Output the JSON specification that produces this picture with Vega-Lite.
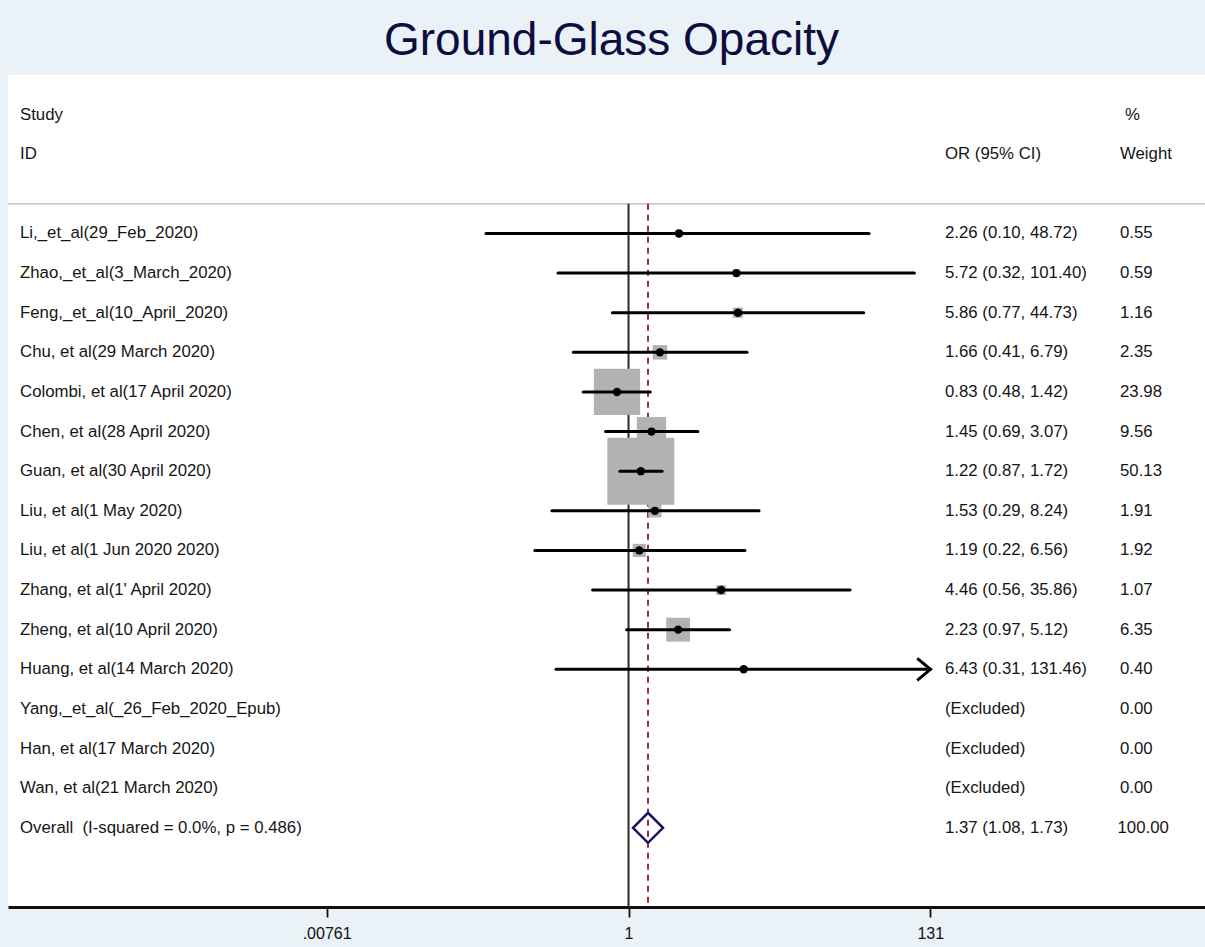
{
  "$schema": "https://vega.github.io/schema/vega-lite/v6.json",
  "autosize": "none",
  "width": 1197,
  "height": 832,
  "padding": {"left": 8, "top": 75, "right": 0, "bottom": 40},
  "background": "#eaf2f8",
  "title": {
    "text": "Ground-Glass Opacity",
    "font": "Liberation Sans",
    "fontSize": 46,
    "fontWeight": "normal",
    "color": "#0d0d40",
    "anchor": "middle",
    "frame": "group",
    "baseline": "alphabetic",
    "offset": -26,
    "dx": 5
  },
  "config": {
    "view": {"fill": "white", "stroke": null},
    "axis": {"grid": false},
    "text": {"font": "Liberation Sans", "fontSize": 16.8, "color": "#151515", "align": "left", "baseline": "middle"}
  },
  "datasets": {
    "studies": [
      {"id": 1, "study": "Li,_et_al(29_Feb_2020)", "or": 2.26, "lo": 0.10, "hi": 48.72, "w": 0.55, "ci": "2.26 (0.10, 48.72)", "wt": "0.55"},
      {"id": 2, "study": "Zhao,_et_al(3_March_2020)", "or": 5.72, "lo": 0.32, "hi": 101.40, "w": 0.59, "ci": "5.72 (0.32, 101.40)", "wt": "0.59"},
      {"id": 3, "study": "Feng,_et_al(10_April_2020)", "or": 5.86, "lo": 0.77, "hi": 44.73, "w": 1.16, "ci": "5.86 (0.77, 44.73)", "wt": "1.16"},
      {"id": 4, "study": "Chu, et al(29 March 2020)", "or": 1.66, "lo": 0.41, "hi": 6.79, "w": 2.35, "ci": "1.66 (0.41, 6.79)", "wt": "2.35"},
      {"id": 5, "study": "Colombi, et al(17 April 2020)", "or": 0.83, "lo": 0.48, "hi": 1.42, "w": 23.98, "ci": "0.83 (0.48, 1.42)", "wt": "23.98"},
      {"id": 6, "study": "Chen, et al(28 April 2020)", "or": 1.45, "lo": 0.69, "hi": 3.07, "w": 9.56, "ci": "1.45 (0.69, 3.07)", "wt": "9.56"},
      {"id": 7, "study": "Guan, et al(30 April 2020)", "or": 1.22, "lo": 0.87, "hi": 1.72, "w": 50.13, "ci": "1.22 (0.87, 1.72)", "wt": "50.13"},
      {"id": 8, "study": "Liu, et al(1 May 2020)", "or": 1.53, "lo": 0.29, "hi": 8.24, "w": 1.91, "ci": "1.53 (0.29, 8.24)", "wt": "1.91"},
      {"id": 9, "study": "Liu, et al(1 Jun 2020 2020)", "or": 1.19, "lo": 0.22, "hi": 6.56, "w": 1.92, "ci": "1.19 (0.22, 6.56)", "wt": "1.92"},
      {"id": 10, "study": "Zhang, et al(1' April 2020)", "or": 4.46, "lo": 0.56, "hi": 35.86, "w": 1.07, "ci": "4.46 (0.56, 35.86)", "wt": "1.07"},
      {"id": 11, "study": "Zheng, et al(10 April 2020)", "or": 2.23, "lo": 0.97, "hi": 5.12, "w": 6.35, "ci": "2.23 (0.97, 5.12)", "wt": "6.35"},
      {"id": 12, "study": "Huang, et al(14 March 2020)", "or": 6.43, "lo": 0.31, "hi": 131.46, "w": 0.40, "ci": "6.43 (0.31, 131.46)", "wt": "0.40"},
      {"id": 13, "study": "Yang,_et_al(_26_Feb_2020_Epub)", "or": null, "lo": null, "hi": null, "w": 0, "ci": "(Excluded)", "wt": "0.00"},
      {"id": 14, "study": "Han, et al(17 March 2020)", "or": null, "lo": null, "hi": null, "w": 0, "ci": "(Excluded)", "wt": "0.00"},
      {"id": 15, "study": "Wan, et al(21 March 2020)", "or": null, "lo": null, "hi": null, "w": 0, "ci": "(Excluded)", "wt": "0.00"}
    ],
    "overall": [
      {"id": 16, "study": "Overall\u00a0 (I-squared = 0.0%, p = 0.486)", "or": 1.37, "lo": 1.08, "hi": 1.73, "w": 100, "ci": "1.37 (1.08, 1.73)", "wt": "100.00"}
    ]
  },
  "layer": [
    {
      "data": {"values": [{}]},
      "mark": {"type": "rule", "color": "#c4c4c4", "strokeWidth": 1.5},
      "encoding": {
        "y": {"datum": 0.25, "type": "quantitative", "scale": {"domain": [-3, 18], "reverse": true, "nice": false, "zero": false}, "axis": null}
      }
    },
    {
      "data": {"values": [{}]},
      "mark": {"type": "rule", "color": "#2a2a2a", "strokeWidth": 2},
      "encoding": {
        "x": {"datum": 1, "type": "quantitative", "scale": {"type": "log", "domain": [0.0000442, 11105], "nice": false},
          "axis": {"values": [0.00761, 1, 131], "labelExpr": "datum.value < 0.01 ? '.00761' : (datum.value > 100 ? '131' : '1')", "title": null,
            "domainColor": "#111", "domainWidth": 3, "tickColor": "#111", "tickWidth": 1.8, "tickSize": 10,
            "labelFont": "Liberation Sans", "labelFontSize": 16, "labelColor": "#111", "labelPadding": 8}},
        "y": {"datum": 0.25, "type": "quantitative", "axis": null},
        "y2": {"datum": 18}
      }
    },
    {
      "data": {"values": [{}]},
      "mark": {"type": "rule", "color": "#8b1a2a", "strokeWidth": 1.8, "strokeDash": [6, 5]},
      "encoding": {
        "x": {"datum": 1.37, "type": "quantitative", "title": null},
        "y": {"datum": 0.25, "type": "quantitative", "axis": null},
        "y2": {"datum": 18}
      }
    },
    {
      "data": {"name": "studies"},
      "mark": {"type": "point", "shape": "square", "filled": true, "color": "#b2b2b2", "opacity": 1},
      "encoding": {
        "x": {"field": "or", "type": "quantitative", "title": null},
        "y": {"field": "id", "type": "quantitative", "axis": null},
        "size": {"field": "w", "type": "quantitative", "scale": {"type": "linear", "domain": [0, 100], "range": [0, 8950]}, "legend": null}
      }
    },
    {
      "data": {"name": "studies"},
      "mark": {"type": "rule", "color": "#000", "strokeWidth": 3, "strokeCap": "round"},
      "encoding": {
        "x": {"field": "lo", "type": "quantitative", "title": null},
        "x2": {"field": "hi"},
        "y": {"field": "id", "type": "quantitative", "axis": null}
      }
    },
    {
      "data": {"name": "studies"},
      "mark": {"type": "point", "shape": "circle", "filled": true, "color": "#000", "size": 70, "opacity": 1},
      "encoding": {
        "x": {"field": "or", "type": "quantitative", "title": null},
        "y": {"field": "id", "type": "quantitative", "axis": null}
      }
    },
    {
      "data": {"name": "studies"},
      "transform": [{"filter": "datum.hi > 131"}],
      "mark": {"type": "point", "shape": "M -1.2 -1 L 0 0 L -1.2 1", "filled": false, "stroke": "#000", "strokeWidth": 3, "size": 484, "opacity": 1},
      "encoding": {
        "x": {"field": "hi", "type": "quantitative", "title": null},
        "y": {"field": "id", "type": "quantitative", "axis": null}
      }
    },
    {
      "data": {"name": "overall"},
      "mark": {"type": "point", "shape": "diamond", "filled": false, "stroke": "#14145a", "strokeWidth": 2.5, "size": 900, "opacity": 1},
      "encoding": {
        "x": {"field": "or", "type": "quantitative", "title": null},
        "y": {"field": "id", "type": "quantitative", "axis": null}
      }
    },
    {
      "data": {"name": "studies"},
      "mark": {"type": "text"},
      "encoding": {
        "x": {"datum": 0.00005367, "type": "quantitative", "title": null},
        "y": {"field": "id", "type": "quantitative", "axis": null},
        "text": {"field": "study"}
      }
    },
    {
      "data": {"name": "studies"},
      "mark": {"type": "text"},
      "encoding": {
        "x": {"datum": 166.4, "type": "quantitative", "title": null},
        "y": {"field": "id", "type": "quantitative", "axis": null},
        "text": {"field": "ci"}
      }
    },
    {
      "data": {"name": "studies"},
      "mark": {"type": "text"},
      "encoding": {
        "x": {"datum": 2812, "type": "quantitative", "title": null},
        "y": {"field": "id", "type": "quantitative", "axis": null},
        "text": {"field": "wt"}
      }
    },
    {
      "data": {"name": "overall"},
      "mark": {"type": "text"},
      "encoding": {
        "x": {"datum": 0.00005367, "type": "quantitative", "title": null},
        "y": {"field": "id", "type": "quantitative", "axis": null},
        "text": {"field": "study"}
      }
    },
    {
      "data": {"name": "overall"},
      "mark": {"type": "text"},
      "encoding": {
        "x": {"datum": 166.4, "type": "quantitative", "title": null},
        "y": {"field": "id", "type": "quantitative", "axis": null},
        "text": {"field": "ci"}
      }
    },
    {
      "data": {"name": "overall"},
      "mark": {"type": "text"},
      "encoding": {
        "x": {"datum": 2700, "type": "quantitative", "title": null},
        "y": {"field": "id", "type": "quantitative", "axis": null},
        "text": {"field": "wt"}
      }
    },
    {
      "data": {"values": [{"label": "Study"}]},
      "mark": {"type": "text"},
      "encoding": {
        "x": {"datum": 0.00005367, "type": "quantitative", "title": null},
        "y": {"datum": -2, "type": "quantitative", "axis": null},
        "text": {"field": "label"}
      }
    },
    {
      "data": {"values": [{"label": "ID"}]},
      "mark": {"type": "text"},
      "encoding": {
        "x": {"datum": 0.00005367, "type": "quantitative", "title": null},
        "y": {"datum": -1, "type": "quantitative", "axis": null},
        "text": {"field": "label"}
      }
    },
    {
      "data": {"values": [{"label": "OR (95% CI)"}]},
      "mark": {"type": "text"},
      "encoding": {
        "x": {"datum": 166.4, "type": "quantitative", "title": null},
        "y": {"datum": -1, "type": "quantitative", "axis": null},
        "text": {"field": "label"}
      }
    },
    {
      "data": {"values": [{"label": "%"}]},
      "mark": {"type": "text"},
      "encoding": {
        "x": {"datum": 3048, "type": "quantitative", "title": null},
        "y": {"datum": -2, "type": "quantitative", "axis": null},
        "text": {"field": "label"}
      }
    },
    {
      "data": {"values": [{"label": "Weight"}]},
      "mark": {"type": "text"},
      "encoding": {
        "x": {"datum": 2812, "type": "quantitative", "title": null},
        "y": {"datum": -1, "type": "quantitative", "axis": null},
        "text": {"field": "label"}
      }
    }
  ]
}
